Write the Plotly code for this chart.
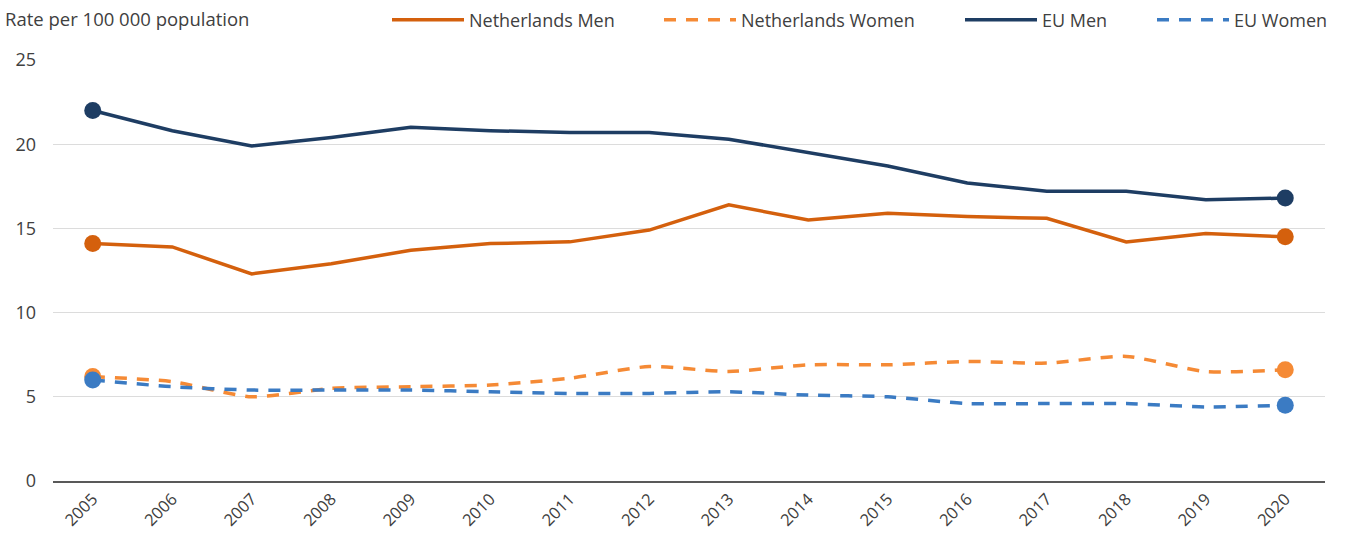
import plotly.graph_objects as go

years = [str(y) for y in range(2005, 2021)]

nl_men = [14.1, 13.9, 12.3, 12.9, 13.7, 14.1, 14.2, 14.9, 16.4, 15.5, 15.9, 15.7, 15.6, 14.2, 14.7, 14.5]
nl_women = [6.2, 5.9, 5.0, 5.5, 5.6, 5.7, 6.1, 6.8, 6.5, 6.9, 6.9, 7.1, 7.0, 7.4, 6.5, 6.6]
eu_men = [22.0, 20.8, 19.9, 20.4, 21.0, 20.8, 20.7, 20.7, 20.3, 19.5, 18.7, 17.7, 17.2, 17.2, 16.7, 16.8]
eu_women = [6.0, 5.6, 5.4, 5.4, 5.4, 5.3, 5.2, 5.2, 5.3, 5.1, 5.0, 4.6, 4.6, 4.6, 4.4, 4.5]

# name, values, colour, dash, line shape, legend id, legend left edge (px)
series = [
    ("Netherlands Men", nl_men, "#D4600D", "solid", "linear", "legend", 387),
    ("Netherlands Women", nl_women, "#F58A35", "12px,10px", "spline", "legend2", 659),
    ("EU Men", eu_men, "#1E3D63", "solid", "linear", "legend3", 960),
    ("EU Women", eu_women, "#3B7BC3", "12px,10px", "spline", "legend4", 1152),
]

W, H = 1345, 541
font_family = "Open Sans, Noto Sans, sans-serif"
text_color = "#404040"

fig = go.Figure()
for name, vals, color, dash, shape, leg, _ in series:
    fig.add_trace(go.Scatter(
        x=years, y=vals, name=name, mode="lines", legend=leg,
        line=dict(color=color, width=3.5, dash=dash, shape=shape, smoothing=0.6),
        hoverinfo="x+y+name",
    ))
# end-point markers
for name, vals, color, dash, shape, leg, _ in series:
    fig.add_trace(go.Scatter(
        x=[years[0], years[-1]], y=[vals[0], vals[-1]], mode="markers",
        marker=dict(color=color, size=17), showlegend=False, hoverinfo="skip",
    ))

legend_layout = {}
for name, vals, color, dash, shape, leg, left in series:
    legend_layout[leg] = dict(
        orientation="h", xref="container", yref="container",
        x=left / W, xanchor="left", y=1 - 20 / H, yanchor="middle",
        font=dict(size=18, color=text_color, family=font_family),
        itemwidth=72, bgcolor="rgba(0,0,0,0)",
    )

fig.update_layout(
    width=W, height=H,
    margin=dict(l=53, r=20, t=60, b=60, autoexpand=False),
    paper_bgcolor="white", plot_bgcolor="white",
    font=dict(family=font_family, color=text_color, size=18),
    title=dict(text="Rate per 100 000 population", x=5 / W, xanchor="left",
               y=1 - 20 / H, yanchor="middle", font=dict(size=18.5, color=text_color)),
    showlegend=True,
    **legend_layout,
)
fig.update_xaxes(
    type="category", range=[-0.5, 15.5], showgrid=False, automargin=False,
    showline=True, linecolor="#595959", linewidth=2,
    tickangle=-45, tickfont=dict(size=16.5, color=text_color), ticks="",
)
fig.update_yaxes(
    range=[0, 25], dtick=5, showgrid=True, gridcolor="#DCDCDC", gridwidth=1,
    automargin=False, zeroline=False, showline=False, ticks="", ticklabelstandoff=16,
    tickfont=dict(size=18, color=text_color),
)

fig.write_html("out.html")
